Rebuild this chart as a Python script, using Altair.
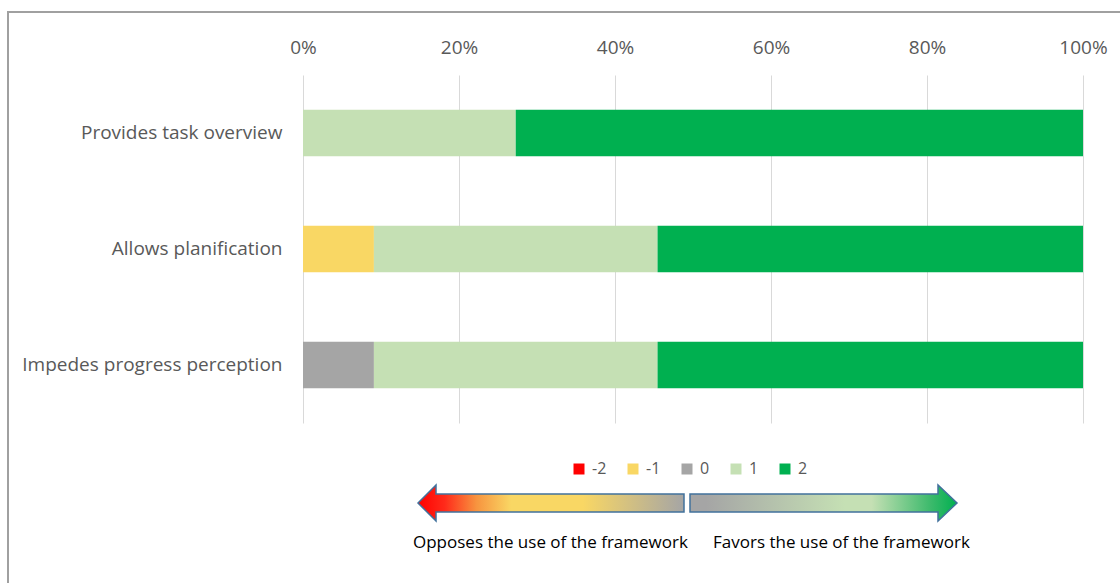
import altair as alt
import pandas as pd

items = ["Provides task overview", "Allows planification", "Impedes progress perception"]
levels = ["-2", "-1", "0", "1", "2"]
level_colors = ["#FF0000", "#F9D764", "#A5A5A5", "#C5E0B4", "#00B050"]
# answer counts per item for levels -2 .. 2 (11 respondents)
counts_task = [0, 0, 0, 3, 8]
counts_plan = [0, 1, 0, 4, 6]
counts_prog = [0, 0, 1, 4, 6]
tick_values = [0, 0.2, 0.4, 0.6, 0.8, 1.0]
left_caption = "Opposes the use of the framework"
right_caption = "Favors the use of the framework"

rows = []
for item, counts in zip(items, [counts_task, counts_plan, counts_prog]):
    for lvl, c in zip(levels, counts):
        if c > 0:
            rows.append({"item": item, "level": lvl, "order": int(lvl), "count": c})
df = pd.DataFrame(rows)
one = pd.DataFrame({"k": [0]})

FONT = "Open Sans"
GRAY = "#595959"

bars = alt.Chart(df).mark_bar().encode(
    x=alt.X("count:Q", stack="normalize",
            scale=alt.Scale(domain=[0, 1], nice=False),
            axis=alt.Axis(orient="top", format="%", values=tick_values, title=None,
                          domain=False, ticks=False, grid=True, gridColor="#D9D9D9",
                          gridWidth=1, labelPadding=18, labelFontSize=19,
                          labelFlush=False, labelColor=GRAY, labelFont=FONT)),
    y=alt.Y("item:N", sort=items,
            scale=alt.Scale(paddingInner=0.6, paddingOuter=0.3),
            axis=alt.Axis(title=None, domain=False, ticks=False, tickSize=0,
                          labelPadding=21, labelFontSize=19, labelColor=GRAY,
                          labelFont=FONT, labelLimit=400)),
    color=alt.Color("level:N",
                    scale=alt.Scale(domain=levels, range=level_colors),
                    legend=alt.Legend(orient="none", legendX=268, legendY=386,
                                      direction="horizontal", title=None,
                                      symbolType="square", symbolSize=121,
                                      symbolStrokeWidth=0, labelFontSize=16,
                                      labelColor=GRAY, labelFont=FONT,
                                      labelOffset=5, columnPadding=18, padding=0)),
    order=alt.Order("order:Q", sort="ascending"),
)

left_grad = alt.Gradient(
    gradient="linear", x1=0, x2=1, y1=0, y2=0,
    stops=[alt.GradientStop(offset=0.0, color="#FF0000"),
           alt.GradientStop(offset=0.1, color="#FF2A1A"),
           alt.GradientStop(offset=0.22, color="#F7943F"),
           alt.GradientStop(offset=0.35, color="#F9D764"),
           alt.GradientStop(offset=0.62, color="#F9D764"),
           alt.GradientStop(offset=1.0, color="#A5A5A5")])
right_grad = alt.Gradient(
    gradient="linear", x1=0, x2=1, y1=0, y2=0,
    stops=[alt.GradientStop(offset=0.0, color="#A5A5A5"),
           alt.GradientStop(offset=0.06, color="#A5A5A5"),
           alt.GradientStop(offset=0.58, color="#C5E0B4"),
           alt.GradientStop(offset=0.68, color="#C5E0B4"),
           alt.GradientStop(offset=0.9, color="#3DBA6C"),
           alt.GradientStop(offset=1.0, color="#00B050")])

left_arrow = alt.Chart(one).mark_point(
    shape="M-133,0L-115,-18L-115,-9L133,-9L133,9L-115,9L-115,18Z",
    size=4, filled=True, fill=left_grad, stroke="#41719C", strokeWidth=1.5, opacity=1,
).encode(x=alt.value(248), y=alt.value(428))

right_arrow = alt.Chart(one).mark_point(
    shape="M-133,-9L115,-9L115,-18L134,0L115,18L115,9L-133,9Z",
    size=4, filled=True, fill=right_grad, stroke="#41719C", strokeWidth=1.5, opacity=1,
).encode(x=alt.value(520), y=alt.value(428))

cap_left = alt.Chart(one).mark_text(
    align="left", baseline="middle", font=FONT, fontSize=17, color="#000000",
).encode(x=alt.value(110), y=alt.value(468), text=alt.value(left_caption))

cap_right = alt.Chart(one).mark_text(
    align="left", baseline="middle", font=FONT, fontSize=17, color="#000000",
).encode(x=alt.value(410), y=alt.value(468), text=alt.value(right_caption))

border_left = alt.Chart(one).mark_rule(color="#A0A0A0", strokeWidth=2).encode(
    x=alt.value(-295), y=alt.value(-63), y2=alt.value(520))
border_top = alt.Chart(one).mark_rule(color="#A0A0A0", strokeWidth=2).encode(
    x=alt.value(-296), x2=alt.value(830), y=alt.value(-63))

chart = alt.layer(
    border_left, border_top, bars, left_arrow, right_arrow, cap_left, cap_right
).properties(
    width=780, height=348,
    padding={"left": 303, "top": 75, "right": 37, "bottom": 160},
    autosize="none", background="white",
).configure_view(stroke=None)

chart.save("out.html", embed_options={"renderer": "svg", "actions": False})
